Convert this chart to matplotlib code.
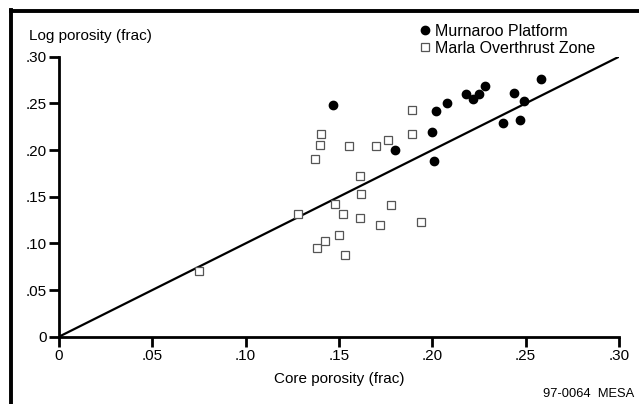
import matplotlib
matplotlib.use("Agg")
import matplotlib.pyplot as plt
from matplotlib.lines import Line2D

# Murnaroo Platform (filled circles)
mur_core = [0.147, 0.180, 0.200, 0.201, 0.202, 0.208, 0.218, 0.222, 0.225,
            0.228, 0.238, 0.244, 0.247, 0.249, 0.258]
mur_log = [0.248, 0.200, 0.219, 0.188, 0.242, 0.250, 0.260, 0.255, 0.260,
           0.269, 0.229, 0.261, 0.232, 0.253, 0.276]

# Marla Overthrust Zone (open squares)
marla_core = [0.075, 0.128, 0.137, 0.140, 0.1405, 0.138, 0.1425, 0.148, 0.150,
              0.152, 0.153, 0.1555, 0.161, 0.162, 0.161, 0.170, 0.176, 0.172,
              0.178, 0.189, 0.189, 0.194]
marla_log = [0.070, 0.131, 0.190, 0.205, 0.217, 0.095, 0.103, 0.142, 0.109,
             0.1315, 0.088, 0.204, 0.172, 0.153, 0.127, 0.204, 0.211, 0.120,
             0.141, 0.243, 0.217, 0.123]

# 1:1 line
line_x = [0, 0.30]
line_y = [0, 0.30]

ticks = [0, 0.05, 0.10, 0.15, 0.20, 0.25, 0.30]
tick_labels = ["0", ".05", ".10", ".15", ".20", ".25", ".30"]

plt.rcParams["font.family"] = ["Liberation Sans", "DejaVu Sans"]

fig = plt.figure(figsize=(6.39, 4.04), dpi=100)
ax = fig.add_axes([59 / 639, 67.3 / 404, 560 / 639, 280 / 404])

ax.plot(line_x, line_y, color="black", lw=1.6, zorder=2)
ax.plot(marla_core, marla_log, ls="none", marker="s", ms=5.2, mfc="white",
        mec="#555555", mew=0.9, zorder=3, label="Marla Overthrust Zone")
ax.plot(mur_core, mur_log, ls="none", marker="o", ms=6.0, mfc="black",
        mec="black", zorder=4, label="Murnaroo Platform")

ax.set_xlim(0, 0.30)
ax.set_ylim(0, 0.30)
ax.set_xticks(ticks)
ax.set_xticklabels(tick_labels, fontsize=11)
ax.set_yticks(ticks)
ax.set_yticklabels(tick_labels, fontsize=11)
ax.tick_params(axis="both", direction="out", length=7, width=2, pad=2)

for s in ["top", "right"]:
    ax.spines[s].set_visible(False)
for s in ["left", "bottom"]:
    ax.spines[s].set_linewidth(2)

fig.text(29 / 639, 1 - 36 / 404, "Log porosity (frac)",
         fontsize=11, va="center", ha="left")
fig.text(339 / 639, 1 - 379 / 404, "Core porosity (frac)",
         fontsize=11, va="center", ha="center")
fig.text(634 / 639, 1 - 394 / 404, "97-0064  MESA", fontsize=9.3,
         va="center", ha="right")

h, l = ax.get_legend_handles_labels()
ax.legend(h[::-1], l[::-1], loc="upper left",
          bbox_to_anchor=(421 / 639, 1 - 24 / 404),
          bbox_transform=fig.transFigure, frameon=False, fontsize=11.5,
          handlelength=0.5, handletextpad=0.35, labelspacing=0.1,
          borderpad=0, borderaxespad=0)

# outer frame (top and left edges)
fig.add_artist(Line2D([10.5 / 639, 1], [1 - 11 / 404, 1 - 11 / 404],
                      transform=fig.transFigure, color="black", lw=2.8))
fig.add_artist(Line2D([10.5 / 639, 10.5 / 639], [0, 1 - 9.5 / 404],
                      transform=fig.transFigure, color="black", lw=2.8))

fig.savefig("out.png", dpi=100)
